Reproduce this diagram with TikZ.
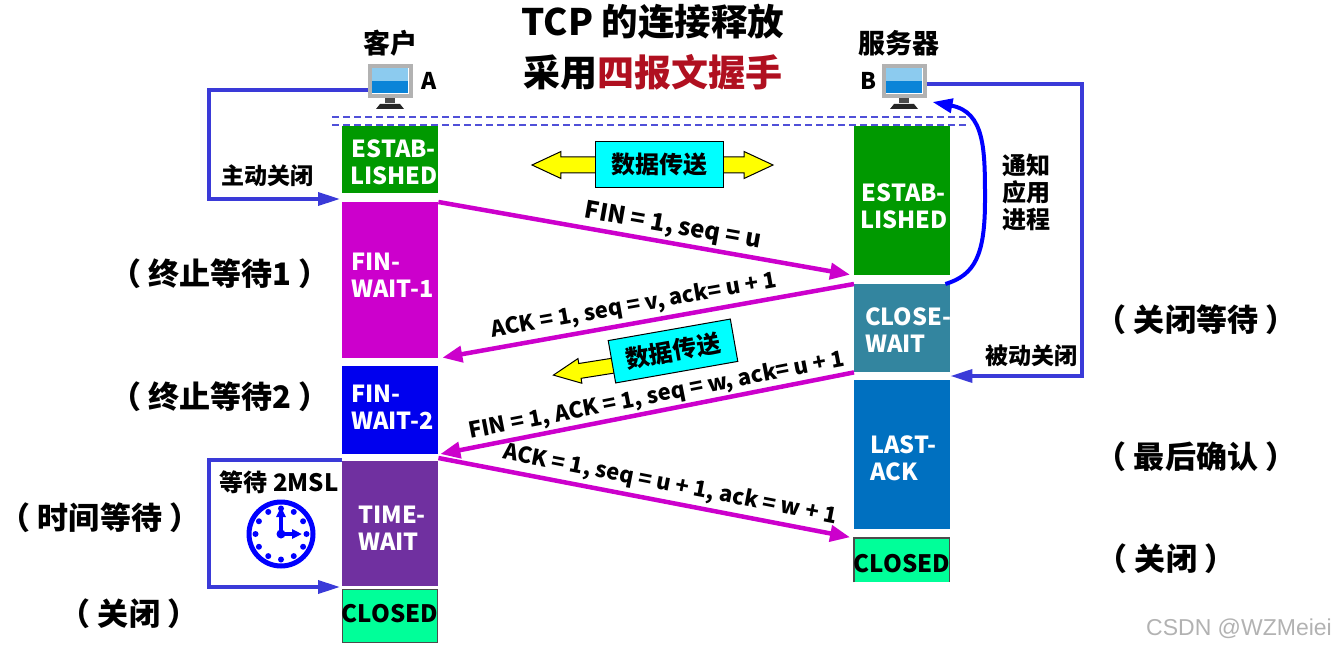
\documentclass[tikz,border=0pt]{standalone}
\usepackage{fontspec}
\setmainfont{Noto Sans CJK SC}
\newfontfamily\markfont{Liberation Sans}
\usetikzlibrary{arrows.meta,shapes.arrows}
\definecolor{estabgreen}{HTML}{009900}
\definecolor{finmagenta}{HTML}{CC00CC}
\definecolor{finblue}{HTML}{0000EE}
\definecolor{timepurple}{HTML}{7030A0}
\definecolor{closedgreen}{HTML}{00FF99}
\definecolor{closeteal}{HTML}{33859F}
\definecolor{lastblue}{HTML}{0070C0}
\definecolor{linkblue}{HTML}{3A3AD8}
\definecolor{titlered}{HTML}{B01020}
\definecolor{dashblue}{HTML}{5050D8}
\definecolor{datacyan}{HTML}{00FFFF}
\definecolor{datayellow}{HTML}{FFFF00}
\definecolor{clockblue}{HTML}{0000FF}
\definecolor{screenlight}{HTML}{8CCBEF}
\definecolor{screendark}{HTML}{0A84D8}
\tikzset{
    pics/pcmonitor/.style={code={
        \fill[screenlight] (-18,-13) rectangle (18,0);
        \fill[screendark] (-18,0) rectangle (18,12);
        \fill[black!70] (-5,17) rectangle (5,22);
        \fill[black!85] (-14,28) -- (-10,23) -- (10,23) -- (14,28) -- cycle;
    }}
}
\begin{document}
\begin{tikzpicture}[x=1pt,y=-1pt,line cap=butt,line join=miter,
    txt/.style={inner sep=0pt,font=\fontsize{#1}{#1}\selectfont\bfseries,align=center},
    txt/.default=23,
    msglabel/.style={inner sep=0pt,font=\fontsize{#1}{#1}\selectfont\bfseries},
    msglabel/.default=22,
    phasebox/.style={anchor=north west,minimum width=96pt,inner sep=0pt},
    phasetext/.style={anchor=west,inner sep=0pt,text=white,align=left,
        font=\fontsize{23.5}{27}\selectfont\bfseries},
    closedbox/.style={phasebox,fill=closedgreen,minimum width=95pt},
    closedtext/.style={inner sep=0pt,text=black,font=\fontsize{24}{24}\selectfont\bfseries},
    closededge/.style={draw=black!70,line width=1.2pt},
    screenbox/.style={draw=black!30,line width=4pt,fill=none,minimum width=41pt,minimum height=30pt,inner sep=0pt},
    msg/.style={draw=finmagenta,line width=4.5pt,-{Triangle[length=20pt,width=16pt]}},
    link/.style={draw=linkblue,line width=3.5pt,-{Triangle[length=22pt,width=13pt]}},
    databox/.style={draw=black,line width=1pt,fill=datacyan,minimum width=128pt,minimum height=45pt,inner sep=0pt,
        font=\fontsize{24}{24}\selectfont\bfseries},
    dash line/.style={dashed,draw=dashblue,line width=1.2pt,dash pattern=on 7pt off 4pt}]
    \useasboundingbox (0,0) rectangle (1337,652);

    \node[txt=36.5] (titleA) at (653,22) {TCP 的连接释放};
    \node[txt=37] (titleB) at (653,72) {采用\textcolor{titlered}{四报文握手}};

    \draw[dash line] (332,117) -- (970,117);
    \draw[dash line] (332,125) -- (970,125);

    \node[screenbox] (pcA) at (390,81) {};
    \node[screenbox] (pcB) at (904,81) {};
    \pic at (pcA) {pcmonitor};
    \pic at (pcB) {pcmonitor};
    \node[txt=27] (clientlabel) at (390,43) {客户};
    \node[txt=27] (serverlabel) at (899,43) {服务器};
    \node[txt=23] (labelA) at (429,81) {A};
    \node[txt=23] (labelB) at (868,81) {B};

    \node[phasebox,fill=estabgreen,minimum height=67pt] (estabA) at (342,126) {};
    \node[phasebox,fill=finmagenta,minimum height=156pt] (fin1) at (342,202) {};
    \node[phasebox,fill=finblue,minimum height=88pt] (fin2) at (342,366) {};
    \node[phasebox,fill=timepurple,minimum height=125pt] (timewait) at (342,461) {};
    \node[closedbox,closededge,minimum height=53pt] (closedA) at (342,589) {};

    \node[phasebox,fill=estabgreen,minimum height=149pt] (estabB) at (854,126) {};
    \node[phasebox,fill=closeteal,minimum height=88pt] (closewait) at (854,284) {};
    \node[phasebox,fill=lastblue,minimum height=149pt] (lastack) at (854,380) {};
    \node[closedbox,minimum height=44pt] (closedB) at (854,538) {};
    \draw[closededge] (closedB.south west) -- (closedB.north west) -- (closedB.north east) -- (closedB.south east);

    \node[phasetext,align=center] (estabAtext) at (350,162) {ESTAB-\\LISHED};
    \node[phasetext] (fin1text) at (351,275) {FIN-\\WAIT-1};
    \node[phasetext] (fin2text) at (351,407) {FIN-\\WAIT-2};
    \node[phasetext] (timetext) at (358,528) {TIME-\\WAIT};
    \node[closedtext] (closedAtext) at (390,614) {CLOSED};
    \node[phasetext,align=center] (estabBtext) at (860,206) {ESTAB-\\LISHED};
    \node[phasetext] (closetext) at (865,330) {CLOSE-\\WAIT};
    \node[phasetext] (lasttext) at (870,458) {LAST-\\ACK};
    \node[closedtext] (closedBtext) at (902,564) {CLOSED};

    \draw[msg,shorten >=4pt] (fin1.north east) -- (estabB.south west);
    \draw[msg,shorten >=4pt] (closewait.north west) -- (fin1.south east);
    \draw[msg,shorten >=2pt] (closewait.south west) -- (fin2.south east);
    \draw[msg,shorten >=4pt] ([yshift=3pt]timewait.north east) -- (closedB.north west);

    \node[msglabel=24,rotate=-10] (finlabel) at (673,227) {FIN = 1, seq = u};
    \node[msglabel,rotate=10] (acklabel) at (634,306) {ACK = 1, seq = v, ack= u + 1};
    \node[msglabel,rotate=11] (finacklabel) at (657,396) {FIN = 1, ACK = 1, seq = w, ack= u + 1};
    \node[msglabel,rotate=-11] (lastlabel) at (670,485) {ACK = 1, seq = u + 1, ack = w + 1};

    \node[double arrow,draw=black,line width=1pt,fill=datayellow,minimum height=241pt,
        double arrow head extend=5.5pt,double arrow tip angle=50,inner xsep=0pt,inner ysep=7.5pt] (dataarrowA) at (652.5,165) {};
    \node[databox,minimum height=46pt] (dataA) at (659,165) {数据传送};
    \node[single arrow,draw=black,line width=1pt,fill=datayellow,minimum height=62pt,
        single arrow head extend=5pt,single arrow tip angle=50,inner xsep=0pt,inner ysep=7pt,rotate=189] (dataarrowB) at (592,369) {};
    \node[databox,minimum width=124pt,minimum height=43pt,rotate=10] (dataB) at (673,351) {数据传送};

    \coordinate (leftA) at (209,90);
    \coordinate (leftB) at (209,199);
    \coordinate (arrivalA) at (342,199);
    \draw[link,shorten >=2pt] (pcA.west |- leftA) -- (leftA) -- (leftB) -- (arrivalA);
    \node[txt=23] (activelabel) at (267,176) {主动关闭};

    \coordinate (rightA) at (1082,84);
    \coordinate (rightB) at (1082,376);
    \draw[link] (pcB.east |- rightA) -- (rightA) -- (rightB) -- (closewait.east |- rightB);
    \node[txt=23] (passivelabel) at (1031,356) {被动关闭};

    \draw[draw=clockblue,line width=4pt,-{Triangle[length=20pt,width=14pt]}]
        ([xshift=-5pt]closewait.north east) .. controls (975,275) and (985,255) .. (985,200)
        .. controls (985,150) and (985,112) .. ([xshift=6pt,yshift=-4pt]pcB.south east);
    \node[txt=24,font=\fontsize{24}{27}\selectfont\bfseries] (notifylabel) at (1026,192) {通知\\应用\\进程};

    \coordinate (waitA) at (209,460);
    \coordinate (waitB) at (209,587);
    \draw[link,shorten >=2pt] (timewait.north west |- waitA) -- (waitA) -- (waitB) -- (timewait.south west |- waitB);
    \node[txt=24] (waitlabel) at (279,482) {等待 2MSL};

    \node[circle,draw=clockblue,line width=5pt,minimum size=64pt,inner sep=0pt] (clock) at (281,534) {};
    \foreach \a in {0,30,...,330}
        \fill[clockblue] (clock.center) ++(\a:25.5pt) circle (3pt);
    \draw[draw=clockblue,line width=3.5pt,-{Triangle[length=10pt,width=9pt]}] (clock.center) -- ++(0,-27);
    \draw[draw=clockblue,line width=3.5pt,-{Triangle[length=10pt,width=9pt]}] (clock.center) -- ++(21,0);
    \fill[clockblue] (clock.center) circle (4.5pt);

    \node[txt=31] (state1) at (220,274) {（ 终止等待1 ）};
    \node[txt=31] (state2) at (220,397) {（ 终止等待2 ）};
    \node[txt=31] (state3) at (100,518) {（ 时间等待 ）};
    \node[txt=31] (state4) at (129,614) {（ 关闭 ）};
    \node[txt=31] (state5) at (1196,320) {（ 关闭等待 ）};
    \node[txt=31] (state6) at (1196,457) {（ 最后确认 ）};
    \node[txt=31] (state7) at (1166,559) {（ 关闭 ）};

    \node[inner sep=0pt,text=black!30,font=\fontsize{23}{23}\selectfont\markfont] (mark) at (1239,629) {CSDN @WZMeiei};
\end{tikzpicture}
\end{document}
